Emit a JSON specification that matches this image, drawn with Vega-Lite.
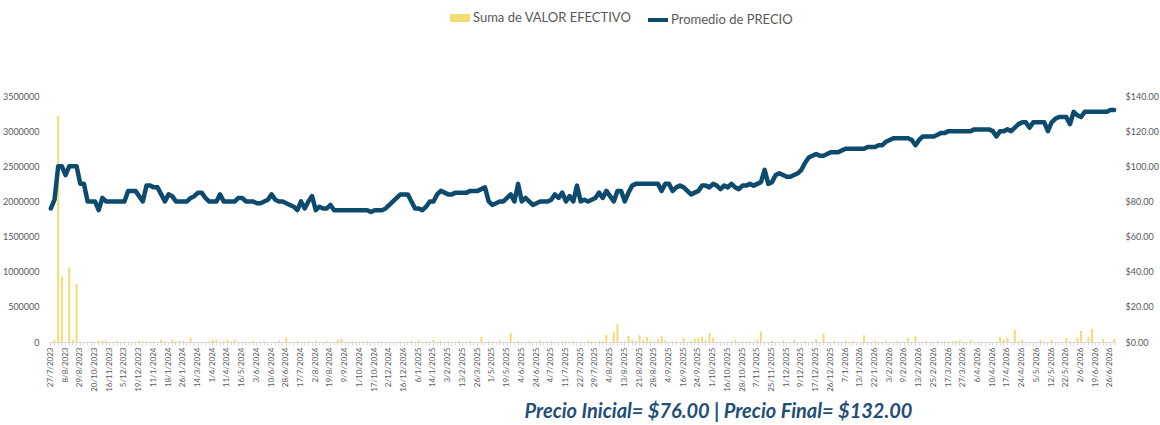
{
"$schema":"https://vega.github.io/schema/vega-lite/v6.json",
"width":1067,"height":246,
"autosize":{"type":"none"},
"padding":{"left":49,"top":96,"right":44,"bottom":83},
"background":"white",
"config":{"view":{"stroke":null},"font":"Lato","axis":{"grid":false,"labelColor":"#595959","labelFont":"Lato"},"legend":{"labelFont":"Lato","labelColor":"#595959","labelFontSize":13,"padding":0}},
"title":{"text":"Precio Inicial= $76.00 | Precio Final= $132.00","orient":"bottom","anchor":"middle","dx":136,"offset":11,"font":"Lato","fontSize":20,"fontStyle":"italic","fontWeight":"bold","color":"#1F4E79"},
"data":{"values":[
{"d":"27/7/2023","v":0,"p":76},{"d":"31/7/2023","v":25000,"p":81},{"d":"2/8/2023","v":3220000,"p":100},{"d":"4/8/2023","v":930000,"p":100},
{"d":"8/8/2023","v":0,"p":95},{"d":"14/8/2023","v":1060000,"p":100},{"d":"18/8/2023","v":28000,"p":100},{"d":"24/8/2023","v":825000,"p":100},
{"d":"29/8/2023","v":0,"p":90},{"d":"12/9/2023","v":0,"p":90},{"d":"27/9/2023","v":0,"p":80},{"d":"10/10/2023","v":8000,"p":80},
{"d":"20/10/2023","v":0,"p":80},{"d":"27/10/2023","v":18000,"p":75},{"d":"3/11/2023","v":18000,"p":82},{"d":"9/11/2023","v":18000,"p":80},
{"d":"16/11/2023","v":0,"p":80},{"d":"21/11/2023","v":0,"p":80},{"d":"27/11/2023","v":18000,"p":80},{"d":"30/11/2023","v":0,"p":80},
{"d":"5/12/2023","v":8000,"p":80},{"d":"7/12/2023","v":0,"p":86},{"d":"12/12/2023","v":0,"p":86},{"d":"15/12/2023","v":0,"p":86},
{"d":"19/12/2023","v":18000,"p":83},{"d":"22/12/2023","v":8000,"p":80},{"d":"28/12/2023","v":8000,"p":89},{"d":"4/1/2024","v":0,"p":89},
{"d":"11/1/2024","v":8000,"p":88},{"d":"12/1/2024","v":0,"p":88},{"d":"15/1/2024","v":33000,"p":84},{"d":"16/1/2024","v":8000,"p":80},
{"d":"18/1/2024","v":0,"p":84},{"d":"19/1/2024","v":33000,"p":83},{"d":"22/1/2024","v":10000,"p":80},{"d":"24/1/2024","v":10000,"p":80},
{"d":"26/1/2024","v":10000,"p":80},{"d":"9/2/2024","v":0,"p":80},{"d":"23/2/2024","v":61000,"p":82},{"d":"5/3/2024","v":0,"p":83},
{"d":"14/3/2024","v":0,"p":85},{"d":"19/3/2024","v":0,"p":85},{"d":"22/3/2024","v":0,"p":82},{"d":"26/3/2024","v":10000,"p":80},
{"d":"1/4/2024","v":33000,"p":80},{"d":"3/4/2024","v":33000,"p":80},{"d":"5/4/2024","v":0,"p":84},{"d":"9/4/2024","v":10000,"p":80},
{"d":"11/4/2024","v":33000,"p":80},{"d":"19/4/2024","v":10000,"p":80},{"d":"29/4/2024","v":28000,"p":80},{"d":"8/5/2024","v":0,"p":82},
{"d":"16/5/2024","v":0,"p":82},{"d":"21/5/2024","v":0,"p":80},{"d":"24/5/2024","v":0,"p":80},{"d":"29/5/2024","v":15000,"p":80},
{"d":"3/6/2024","v":0,"p":79},{"d":"4/6/2024","v":0,"p":79},{"d":"5/6/2024","v":10000,"p":80},{"d":"7/6/2024","v":0,"p":81},
{"d":"10/6/2024","v":0,"p":84},{"d":"14/6/2024","v":0,"p":81},{"d":"19/6/2024","v":20000,"p":80},{"d":"24/6/2024","v":0,"p":80},
{"d":"28/6/2024","v":60000,"p":79},{"d":"3/7/2024","v":0,"p":78},{"d":"8/7/2024","v":0,"p":77},{"d":"12/7/2024","v":15000,"p":75},
{"d":"17/7/2024","v":0,"p":80},{"d":"22/7/2024","v":0,"p":76},{"d":"25/7/2024","v":10000,"p":80},{"d":"30/7/2024","v":0,"p":83},
{"d":"2/8/2024","v":20000,"p":75},{"d":"6/8/2024","v":0,"p":77},{"d":"9/8/2024","v":0,"p":76},{"d":"14/8/2024","v":15000,"p":76},
{"d":"19/8/2024","v":0,"p":78},{"d":"23/8/2024","v":0,"p":75},{"d":"28/8/2024","v":30000,"p":75},{"d":"3/9/2024","v":45000,"p":75},
{"d":"9/9/2024","v":0,"p":75},{"d":"13/9/2024","v":0,"p":75},{"d":"19/9/2024","v":10000,"p":75},{"d":"25/9/2024","v":0,"p":75},
{"d":"1/10/2024","v":0,"p":75},{"d":"4/10/2024","v":0,"p":75},{"d":"9/10/2024","v":10000,"p":75},{"d":"14/10/2024","v":0,"p":74},
{"d":"17/10/2024","v":0,"p":75},{"d":"28/10/2024","v":0,"p":75},{"d":"11/11/2024","v":8000,"p":75},{"d":"22/11/2024","v":0,"p":76},
{"d":"2/12/2024","v":0,"p":78},{"d":"5/12/2024","v":0,"p":80},{"d":"9/12/2024","v":0,"p":82},{"d":"12/12/2024","v":10000,"p":84},
{"d":"16/12/2024","v":0,"p":84},{"d":"19/12/2024","v":0,"p":84},{"d":"26/12/2024","v":15000,"p":80},{"d":"2/1/2025","v":0,"p":76},
{"d":"6/1/2025","v":20000,"p":76},{"d":"8/1/2025","v":0,"p":75},{"d":"9/1/2025","v":10000,"p":77},{"d":"13/1/2025","v":0,"p":80},
{"d":"14/1/2025","v":30000,"p":80},{"d":"20/1/2025","v":0,"p":84},{"d":"24/1/2025","v":15000,"p":86},{"d":"29/1/2025","v":0,"p":85},
{"d":"3/2/2025","v":10000,"p":84},{"d":"5/2/2025","v":0,"p":84},{"d":"7/2/2025","v":0,"p":85},{"d":"11/2/2025","v":20000,"p":85},
{"d":"13/2/2025","v":0,"p":85},{"d":"24/2/2025","v":0,"p":85},{"d":"6/3/2025","v":15000,"p":86},{"d":"17/3/2025","v":0,"p":86},
{"d":"26/3/2025","v":0,"p":86},{"d":"3/4/2025","v":75000,"p":87},{"d":"11/4/2025","v":0,"p":88},{"d":"22/4/2025","v":10000,"p":80},
{"d":"1/5/2025","v":0,"p":78},{"d":"6/5/2025","v":0,"p":79},{"d":"9/5/2025","v":20000,"p":80},{"d":"14/5/2025","v":0,"p":80},
{"d":"19/5/2025","v":0,"p":82},{"d":"23/5/2025","v":130000,"p":84},{"d":"27/5/2025","v":0,"p":80},{"d":"30/5/2025","v":15000,"p":90},
{"d":"4/6/2025","v":0,"p":80},{"d":"9/6/2025","v":0,"p":82},{"d":"13/6/2025","v":10000,"p":80},{"d":"18/6/2025","v":0,"p":78},
{"d":"24/6/2025","v":0,"p":79},{"d":"26/6/2025","v":20000,"p":80},{"d":"30/6/2025","v":0,"p":80},{"d":"2/7/2025","v":0,"p":80},
{"d":"4/7/2025","v":10000,"p":81},{"d":"7/7/2025","v":0,"p":84},{"d":"8/7/2025","v":0,"p":82},{"d":"10/7/2025","v":10000,"p":85},
{"d":"11/7/2025","v":10000,"p":80},{"d":"14/7/2025","v":0,"p":83},{"d":"16/7/2025","v":10000,"p":80},{"d":"18/7/2025","v":0,"p":89},
{"d":"22/7/2025","v":0,"p":80},{"d":"23/7/2025","v":0,"p":81},{"d":"24/7/2025","v":10000,"p":80},{"d":"28/7/2025","v":10000,"p":81},
{"d":"29/7/2025","v":0,"p":82},{"d":"30/7/2025","v":10000,"p":85},{"d":"31/7/2025","v":10000,"p":82},{"d":"1/8/2025","v":100000,"p":86},
{"d":"4/8/2025","v":0,"p":83},{"d":"6/8/2025","v":138000,"p":80},{"d":"8/8/2025","v":252000,"p":86},{"d":"11/8/2025","v":0,"p":86},
{"d":"13/8/2025","v":10000,"p":80},{"d":"14/8/2025","v":85000,"p":85},{"d":"18/8/2025","v":30000,"p":89},{"d":"19/8/2025","v":10000,"p":90},
{"d":"21/8/2025","v":100000,"p":90},{"d":"22/8/2025","v":28000,"p":90},{"d":"25/8/2025","v":71000,"p":90},{"d":"27/8/2025","v":10000,"p":90},
{"d":"28/8/2025","v":10000,"p":90},{"d":"29/8/2025","v":38000,"p":90},{"d":"1/9/2025","v":85000,"p":86},{"d":"2/9/2025","v":24000,"p":90},
{"d":"4/9/2025","v":0,"p":90},{"d":"8/9/2025","v":0,"p":86},{"d":"10/9/2025","v":10000,"p":88},{"d":"12/9/2025","v":0,"p":89},
{"d":"16/9/2025","v":57000,"p":88},{"d":"17/9/2025","v":0,"p":86},{"d":"19/9/2025","v":10000,"p":84},{"d":"22/9/2025","v":47000,"p":85},
{"d":"24/9/2025","v":61000,"p":86},{"d":"25/9/2025","v":76000,"p":89},{"d":"26/9/2025","v":28000,"p":89},{"d":"29/9/2025","v":128000,"p":88},
{"d":"1/10/2025","v":61000,"p":90},{"d":"6/10/2025","v":0,"p":89},{"d":"9/10/2025","v":0,"p":87},{"d":"14/10/2025","v":0,"p":89},
{"d":"16/10/2025","v":0,"p":88},{"d":"20/10/2025","v":10000,"p":90},{"d":"23/10/2025","v":28000,"p":88},{"d":"27/10/2025","v":0,"p":87},
{"d":"28/10/2025","v":10000,"p":89},{"d":"30/10/2025","v":0,"p":89},{"d":"3/11/2025","v":10000,"p":90},{"d":"5/11/2025","v":0,"p":89},
{"d":"7/11/2025","v":28000,"p":90},{"d":"12/11/2025","v":150000,"p":91},{"d":"17/11/2025","v":0,"p":98},{"d":"21/11/2025","v":0,"p":90},
{"d":"25/11/2025","v":15000,"p":91},{"d":"26/11/2025","v":0,"p":95},{"d":"27/11/2025","v":0,"p":96},{"d":"28/11/2025","v":20000,"p":95},
{"d":"1/12/2025","v":0,"p":94},{"d":"3/12/2025","v":0,"p":94},{"d":"4/12/2025","v":30000,"p":95},{"d":"5/12/2025","v":0,"p":96},
{"d":"9/12/2025","v":0,"p":98},{"d":"10/12/2025","v":15000,"p":102},{"d":"12/12/2025","v":0,"p":105},{"d":"15/12/2025","v":0,"p":106},
{"d":"17/12/2025","v":40000,"p":107},{"d":"18/12/2025","v":0,"p":106},{"d":"19/12/2025","v":120000,"p":106},{"d":"22/12/2025","v":0,"p":107},
{"d":"26/12/2025","v":0,"p":108},{"d":"29/12/2025","v":15000,"p":108},{"d":"30/12/2025","v":0,"p":108},{"d":"5/1/2026","v":0,"p":109},
{"d":"7/1/2026","v":20000,"p":110},{"d":"8/1/2026","v":0,"p":110},{"d":"9/1/2026","v":10000,"p":110},{"d":"12/1/2026","v":0,"p":110},
{"d":"13/1/2026","v":0,"p":110},{"d":"15/1/2026","v":95000,"p":110},{"d":"19/1/2026","v":0,"p":111},{"d":"20/1/2026","v":0,"p":111},
{"d":"22/1/2026","v":15000,"p":111},{"d":"26/1/2026","v":0,"p":112},{"d":"28/1/2026","v":0,"p":112},{"d":"30/1/2026","v":20000,"p":114},
{"d":"3/2/2026","v":0,"p":115},{"d":"4/2/2026","v":0,"p":116},{"d":"5/2/2026","v":10000,"p":116},{"d":"6/2/2026","v":0,"p":116},
{"d":"9/2/2026","v":0,"p":116},{"d":"10/2/2026","v":60000,"p":116},{"d":"11/2/2026","v":0,"p":115},{"d":"12/2/2026","v":80000,"p":112},
{"d":"13/2/2026","v":0,"p":115},{"d":"17/2/2026","v":0,"p":117},{"d":"19/2/2026","v":15000,"p":117},{"d":"23/2/2026","v":0,"p":117},
{"d":"25/2/2026","v":0,"p":117},{"d":"2/3/2026","v":10000,"p":118},{"d":"6/3/2026","v":0,"p":119},{"d":"11/3/2026","v":10000,"p":119},
{"d":"17/3/2026","v":0,"p":120},{"d":"19/3/2026","v":10000,"p":120},{"d":"23/3/2026","v":14000,"p":120},{"d":"25/3/2026","v":24000,"p":120},
{"d":"27/3/2026","v":0,"p":120},{"d":"30/3/2026","v":0,"p":120},{"d":"1/4/2026","v":28000,"p":120},{"d":"3/4/2026","v":0,"p":121},
{"d":"6/4/2026","v":0,"p":121},{"d":"7/4/2026","v":0,"p":121},{"d":"8/4/2026","v":0,"p":121},{"d":"9/4/2026","v":0,"p":121},
{"d":"10/4/2026","v":0,"p":120},{"d":"13/4/2026","v":10000,"p":117},{"d":"14/4/2026","v":71000,"p":120},{"d":"15/4/2026","v":33000,"p":120},
{"d":"17/4/2026","v":57000,"p":121},{"d":"20/4/2026","v":0,"p":120},{"d":"21/4/2026","v":171000,"p":122},{"d":"22/4/2026","v":10000,"p":124},
{"d":"24/4/2026","v":33000,"p":125},{"d":"27/4/2026","v":0,"p":125},{"d":"29/4/2026","v":0,"p":122},{"d":"4/5/2026","v":0,"p":125},
{"d":"5/5/2026","v":0,"p":125},{"d":"6/5/2026","v":28000,"p":125},{"d":"7/5/2026","v":0,"p":125},{"d":"8/5/2026","v":0,"p":120},
{"d":"12/5/2026","v":28000,"p":125},{"d":"14/5/2026","v":0,"p":127},{"d":"18/5/2026","v":0,"p":128},{"d":"20/5/2026","v":0,"p":128},
{"d":"22/5/2026","v":57000,"p":128},{"d":"25/5/2026","v":10000,"p":124},{"d":"27/5/2026","v":0,"p":131},{"d":"29/5/2026","v":57000,"p":129},
{"d":"2/6/2026","v":157000,"p":128},{"d":"5/6/2026","v":0,"p":131},{"d":"10/6/2026","v":66000,"p":131},{"d":"15/6/2026","v":185000,"p":131},
{"d":"19/6/2026","v":0,"p":131},{"d":"22/6/2026","v":0,"p":131},{"d":"23/6/2026","v":42000,"p":131},{"d":"24/6/2026","v":0,"p":131},
{"d":"26/6/2026","v":0,"p":132},{"d":"29/6/2026","v":42000,"p":132}
]},
"encoding":{"x":{"field":"d","type":"ordinal","sort":null,"title":null,
 "scale":{"paddingInner":0.45,"paddingOuter":0.225},
 "axis":{"labelAngle":-90,"labelFontSize":8,"labelOverlap":false,"labelPadding":2,"tickSize":3,"tickColor":"#D9D9D9","domainColor":"#D9D9D9",
 "labelExpr":"indexof(['27/7/2023','8/8/2023','29/8/2023','20/10/2023','16/11/2023','5/12/2023','19/12/2023','11/1/2024','18/1/2024','26/1/2024','14/3/2024','1/4/2024','11/4/2024','16/5/2024','3/6/2024','10/6/2024','28/6/2024','17/7/2024','2/8/2024','19/8/2024','9/9/2024','1/10/2024','17/10/2024','2/12/2024','16/12/2024','6/1/2025','14/1/2025','3/2/2025','13/2/2025','26/3/2025','1/5/2025','19/5/2025','4/6/2025','24/6/2025','4/7/2025','11/7/2025','22/7/2025','29/7/2025','4/8/2025','13/8/2025','21/8/2025','28/8/2025','4/9/2025','16/9/2025','24/9/2025','1/10/2025','16/10/2025','28/10/2025','7/11/2025','25/11/2025','1/12/2025','9/12/2025','17/12/2025','26/12/2025','7/1/2026','13/1/2026','22/1/2026','3/2/2026','9/2/2026','13/2/2026','25/2/2026','17/3/2026','27/3/2026','6/4/2026','10/4/2026','17/4/2026','24/4/2026','5/5/2026','12/5/2026','22/5/2026','2/6/2026','19/6/2026','26/6/2026'], datum.value) >= 0 ? datum.value : ''"}}},
"layer":[
 {"mark":{"type":"bar"},
  "encoding":{
   "y":{"field":"v","type":"quantitative","scale":{"domain":[0,3500000],"nice":false},
     "axis":{"orient":"left","title":null,"values":[0,500000,1000000,1500000,2000000,2500000,3000000,3500000],"format":"d","ticks":false,"domain":false,"labelPadding":10,"labelFontSize":9}},
   "fill":{"datum":"Suma de VALOR EFECTIVO","type":"nominal","scale":{"range":["#F2DC73"]},
     "legend":{"orient":"none","legendX":401,"legendY":-88,"title":null,"symbolType":"M-1,-0.4L1,-0.4L1,0.4L-1,0.4Z","symbolSize":400,"symbolStrokeWidth":0,"labelOffset":3}}}},
 {"mark":{"type":"line","strokeWidth":4.5,"strokeJoin":"round","strokeCap":"round"},
  "encoding":{
   "y":{"field":"p","type":"quantitative","scale":{"domain":[0,140],"nice":false},
     "axis":{"orient":"right","title":null,"values":[0,20,40,60,80,100,120,140],"format":"$.2f","ticks":false,"domain":false,"labelPadding":9,"labelFontSize":9}},
   "stroke":{"datum":"Promedio de PRECIO","type":"nominal","scale":{"range":["#0C4A6E"]},
     "legend":{"orient":"none","legendX":597,"legendY":-88,"title":null,"symbolType":"stroke","symbolSize":400,"symbolStrokeWidth":4,"labelOffset":1}}}}
],
"resolve":{"scale":{"y":"independent"}}
}
